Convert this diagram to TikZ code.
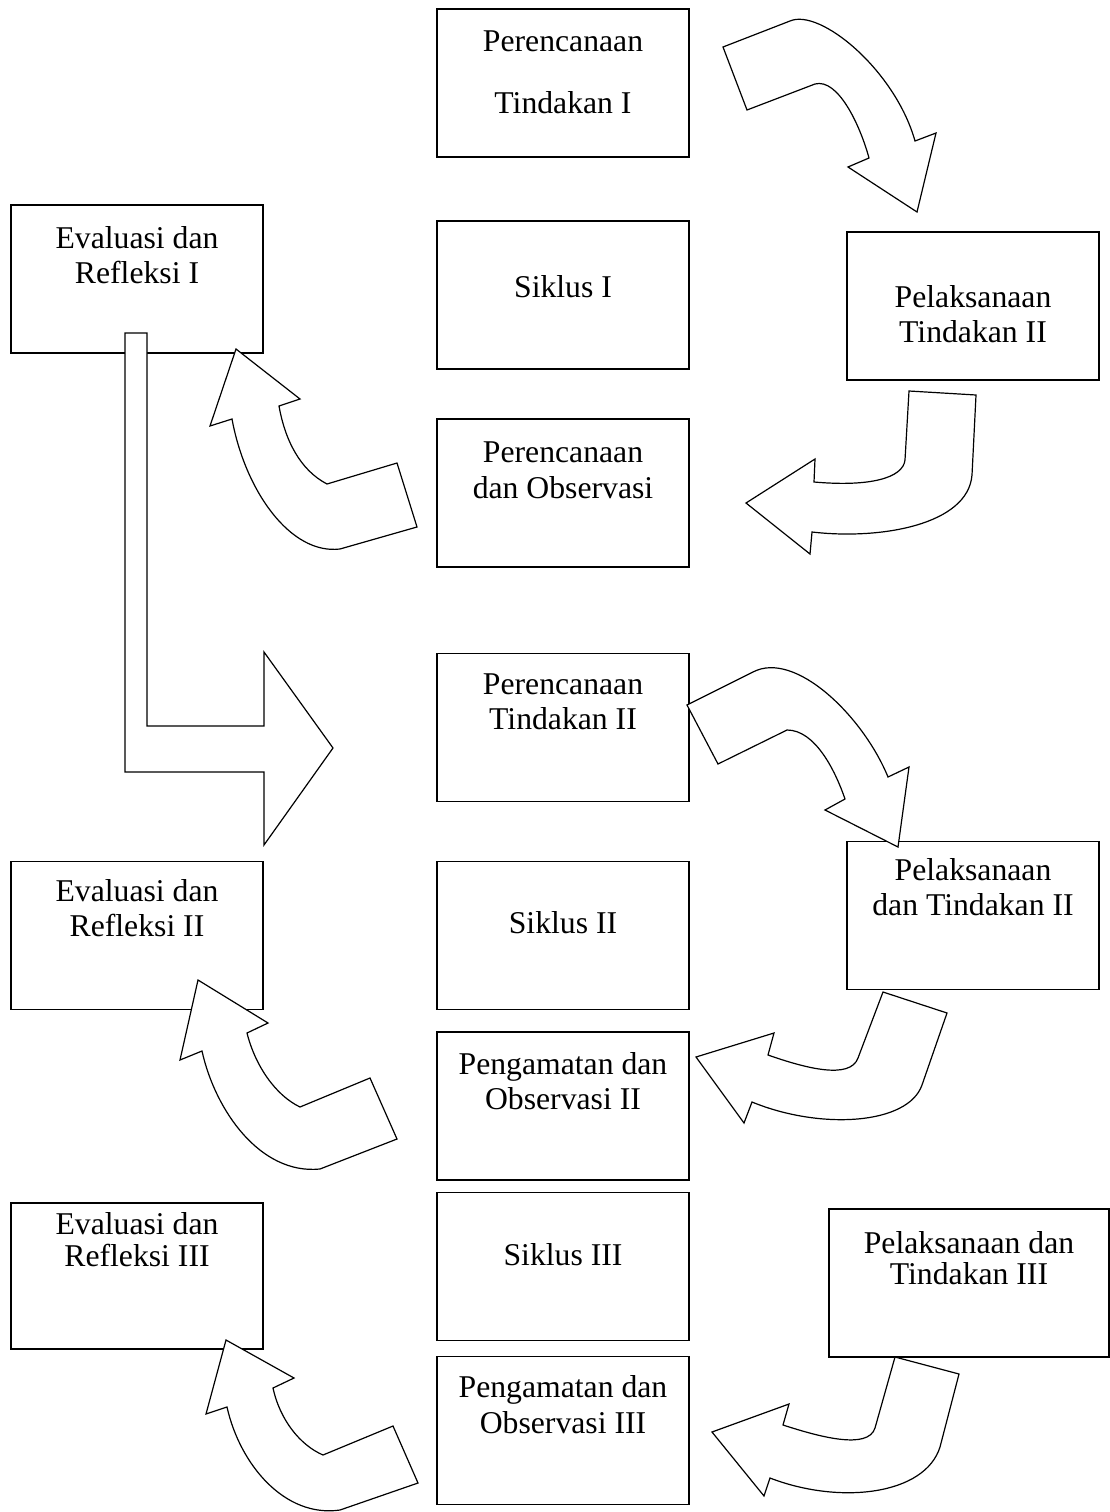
\documentclass[tikz,border=0pt]{standalone}
\usepackage{fontspec}
\setmainfont{Liberation Serif}
\usetikzlibrary{positioning}

\tikzset{
  kotak/.style={draw, line width=1.5pt, minimum width=252pt, minimum height=148pt, inner sep=0pt},
  teks/.style={align=center, inner sep=0pt, font=\fontsize{31.7}{35}\selectfont},
  panah/.style={draw, fill=white, line width=1.2pt, line join=miter}
}

\begin{document}
\begin{tikzpicture}[x=1pt, y=-1pt]
	\useasboundingbox (0,0) rectangle (1110,1512);

	% siklus I
	\node [kotak] (pt1) at (563,83) {};
	\node [kotak] (er1) at (137,279) {};
	\node [kotak] (sk1) at (563,295) {};
	\node [kotak] (pl1) at (973,306) {};
	\node [kotak] (po1) at (563,493) {};

	\node [teks, below=22pt of pt1.north] (pt1t) {Perencanaan\\[27pt]Tindakan I};
	\node [teks, below=22pt of er1.north] (er1t) {Evaluasi dan\\Refleksi I};
	\node [teks, below=55pt of sk1.north] (sk1t) {Siklus I};
	\node [teks, below=54pt of pl1.north] (pl1t) {Pelaksanaan\\Tindakan II};
	\node [teks, below=23pt of po1.north] (po1t) {Perencanaan\\[1pt]dan Observasi};

	% siklus II
	\node [kotak] (pt2) at (563,727.5) {};
	\node [kotak] (er2) at (137,935.5) {};
	\node [kotak] (sk2) at (563,935.5) {};
	\node [kotak] (pl2) at (973,915.5) {};
	\node [kotak] (po2) at (563,1106) {};

	\node [teks, below=21pt of pt2.north] (pt2t) {Perencanaan\\Tindakan II};
	\node [teks, below=19pt of er2.north] (er2t) {Evaluasi dan\\Refleksi II};
	\node [teks, below=51pt of sk2.north] (sk2t) {Siklus II};
	\node [teks, below=18pt of pl2.north] (pl2t) {Pelaksanaan\\dan Tindakan II};
	\node [teks, below=21pt of po2.north] (po2t) {Pengamatan dan\\Observasi II};

	% siklus III
	\node [kotak, minimum height=146pt] (er3) at (137,1276) {};
	\node [kotak] (sk3) at (563,1266.5) {};
	\node [kotak, minimum width=280pt] (pl3) at (969,1283) {};
	\node [kotak] (po3) at (563,1430.5) {};

	\node [teks, below=10pt of er3.north] (er3t) {Evaluasi dan\\[-3pt]Refleksi III};
	\node [teks, below=52pt of sk3.north] (sk3t) {Siklus III};
	\node [teks, below=23pt of pl3.north] (pl3t) {Pelaksanaan dan\\[-4pt]Tindakan III};
	\node [teks, below=20pt of po3.north] (po3t) {Pengamatan dan\\[1pt]Observasi III};

	% panah
	\draw [panah] (723,47) -- (790,21) .. controls (820,8) and (895,70) .. (915,141) -- (936,133) -- (917,212) -- (848,167) -- (869,158) .. controls (860,125) and (838,78) .. (815,84) -- (747,110) -- cycle;
	\draw [panah] (909,391) -- (976,395) -- (972,475) .. controls (968,525) and (880,540) .. (812,532) -- (810,554) -- (746,503) -- (815,459) -- (814,482) .. controls (870,487) and (903,478) .. (905,460) -- cycle;
	\draw [panah] (417,527) -- (397,463) -- (327,484) .. controls (300,470) and (285,440) .. (279,406) -- (300,399) -- (236,349) -- (210,426) -- (232,419) .. controls (245,490) and (290,555) .. (340,549) -- cycle;
	\draw [panah] (125,333) -- (147,333) -- (147,726) -- (264,726) -- (264,652) -- (333,748) -- (264,845) -- (264,772) -- (125,772) -- cycle;

	\draw [panah] (687,705) -- (753,672) .. controls (795,650) and (863,716) .. (888,777) -- (909,767) -- (898,847) -- (825,810) -- (845,799) .. controls (835,770) and (815,730) .. (787,730) -- (718,764) -- cycle;
	\draw [panah] (883,992) -- (947,1013) -- (922,1085) .. controls (908,1125) and (820,1130) .. (752,1102) -- (744,1123) -- (696,1057) -- (774,1033) -- (768,1055) .. controls (805,1068) and (850,1080) .. (858,1058) -- cycle;
	\draw [panah] (397,1139) -- (370,1078) -- (300,1107) .. controls (275,1095) and (255,1065) .. (247,1033) -- (268,1023) -- (198,980) -- (180,1060) -- (202,1051) .. controls (215,1110) and (260,1175) .. (320,1169) -- cycle;

	\draw [panah] (895,1357) -- (959,1374) -- (940,1447) .. controls (925,1495) and (840,1505) .. (770,1478) -- (764,1496) -- (712,1432) -- (789,1404) -- (783,1425) .. controls (820,1437) and (868,1450) .. (875,1428) -- cycle;
	\draw [panah] (418,1483) -- (393,1426) -- (323,1455) .. controls (300,1445) and (280,1420) .. (273,1388) -- (294,1378) -- (226,1340) -- (206,1414) -- (227,1407) .. controls (240,1465) and (285,1518) .. (340,1510) -- cycle;
\end{tikzpicture}
\end{document}
